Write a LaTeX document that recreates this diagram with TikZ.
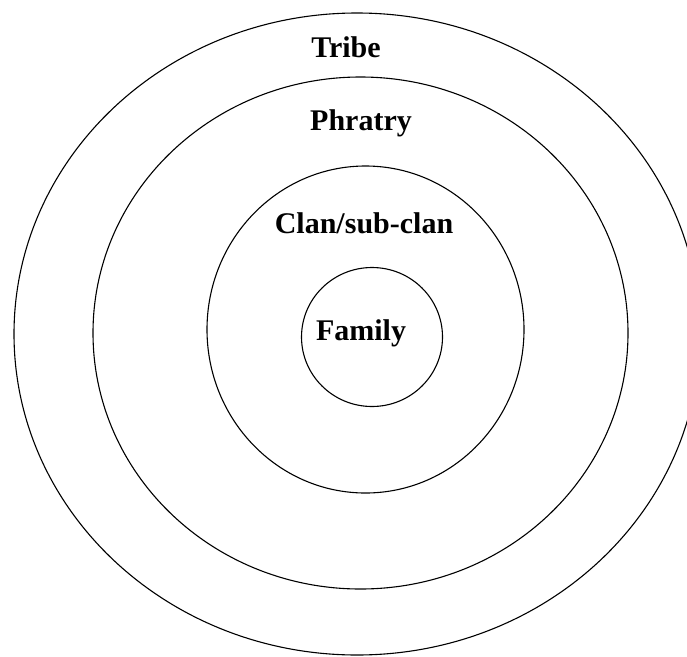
\documentclass[tikz,border=0pt]{standalone}
\usepackage{fontspec}
\setmainfont{Liberation Serif}
\usetikzlibrary{shapes.geometric}
\tikzset{
  ring/.style={draw=black, line width=1.1pt, ellipse, inner sep=0pt, fill=none},
  lbl/.style={font=\fontsize{30}{32}\selectfont\bfseries, inner sep=0pt, text=black}
}
\begin{document}
\begin{tikzpicture}[x=1pt,y=-1pt]
\useasboundingbox (0,0) rectangle (687,656);
\clip (0,0) rectangle (687,656);
\node[ring, minimum width=686pt, minimum height=642pt] (tribe) at (357,334) {};
\node[ring, minimum width=535pt, minimum height=512pt] (phratry) at (360.5,333) {};
\node[ring, minimum width=317pt, minimum height=327pt] (clan) at (365.5,329.5) {};
\node[ring, minimum width=141pt, minimum height=139pt] (family) at (372,337) {};
\node[lbl] (tribeText) at (346,47) {Tribe};
\node[lbl] (phratryText) at (361,123) {Phratry};
\node[lbl] (clanText) at (364,223) {Clan/sub-clan};
\node[lbl] (familyText) at (361,333) {Family};
\end{tikzpicture}
\end{document}
